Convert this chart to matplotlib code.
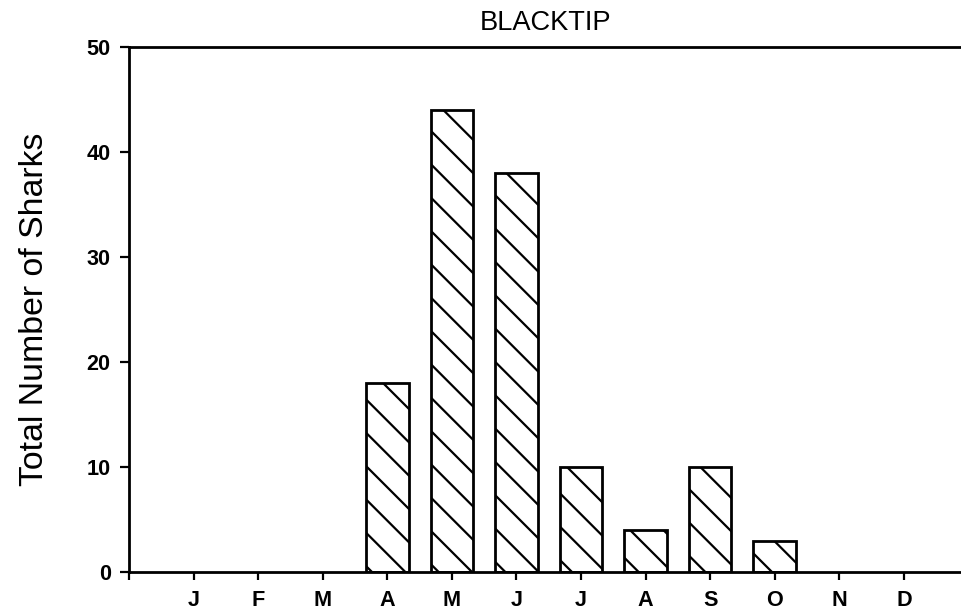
import numpy as np
import matplotlib
matplotlib.use("Agg")
import matplotlib.pyplot as plt

# Monthly totals
months = ["J", "F", "M", "A", "M", "J", "J", "A", "S", "O", "N", "D"]
counts = [0, 0, 0, 18, 44, 38, 10, 4, 10, 3, 0, 0]
yticks = [0, 10, 20, 30, 40, 50]

plt.rcParams['font.family'] = ['Liberation Sans', 'DejaVu Sans']
plt.rcParams['hatch.linewidth'] = 0.8

# dpi 200 so the hatch spacing comes out coarse like the original print
fig = plt.figure(figsize=(4.81, 3.075), dpi=200)
ax = fig.add_axes([129 / 962, 1 - 572 / 615, 1 - 129 / 962, (572 - 47) / 615])

x = np.arange(1, len(months) + 1)
heights = np.array(counts)
shown = heights > 0
ax.bar(x[shown], heights[shown], width=0.66, color="white", edgecolor="black",
       linewidth=1.0, hatch="\\\\", zorder=2)

ax.set_xlim(0, 12.9)
ax.set_ylim(0, 50)
ax.set_xticks(np.arange(0, 13))
ax.set_xticklabels([""] + months, fontweight="bold", fontsize=7.8)
ax.set_yticks(yticks)
ax.set_yticklabels([str(v) for v in yticks], fontweight="bold", fontsize=7.8)

ax.tick_params(axis="x", direction="out", length=2.9, width=0.8, pad=3.5)
ax.tick_params(axis="y", direction="out", length=3.2, width=0.8, pad=3.4)

for side in ["left", "bottom", "top"]:
    ax.spines[side].set_linewidth(1.0)
ax.spines["right"].set_visible(False)

ax.set_ylabel("Total Number of Sharks", fontsize=12.2, labelpad=13)
ax.set_title("BLACKTIP", fontsize=9.8, pad=6)

fig.savefig("out.png", dpi=200)
